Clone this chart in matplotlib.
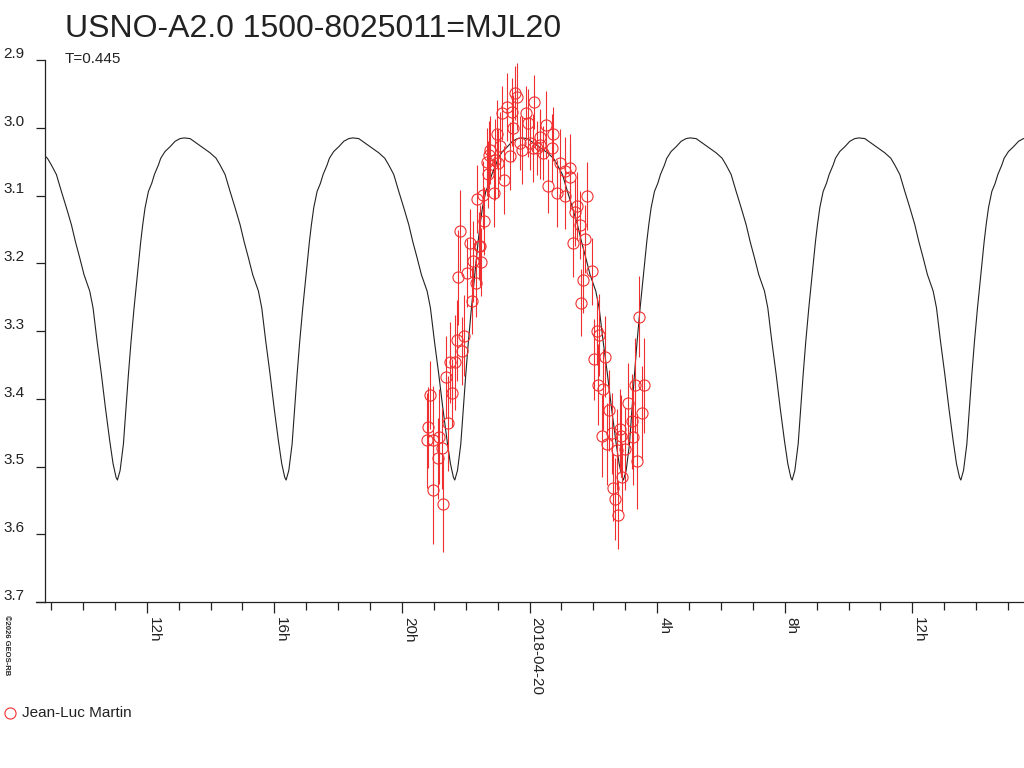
import numpy as np
import matplotlib
matplotlib.use('Agg')
import matplotlib.pyplot as plt
from matplotlib.lines import Line2D
from matplotlib.transforms import blended_transform_factory

plt.rcParams['font.family'] = ['Liberation Sans', 'DejaVu Sans']

# time axis in hours since 2018-04-19 00:00
x_min, x_max = 8.81, 39.5
major_hours = [12, 16, 20, 24, 28, 32, 36]
major_labels = ['12h', '16h', '20h', '2018-04-20', '4h', '8h', '12h']
y_ticks = [2.9, 3.0, 3.1, 3.2, 3.3, 3.4, 3.5, 3.6, 3.7]

# model light curve: one cycle (hours after minimum, mag)
epoch_min = 11.08
period = 5.288
cycle_dt = [0.0, 0.084, 0.188, 0.272, 0.345, 0.428, 0.522, 0.627, 0.731, 0.794,
            0.867, 0.972, 1.076, 1.160, 1.285, 1.358, 1.494, 1.651, 1.808, 1.964,
            2.090, 2.278, 2.487, 2.696, 2.905, 3.093, 3.218, 3.375, 3.532, 3.689,
            3.845, 3.971, 4.107, 4.242, 4.420, 4.525, 4.650, 4.786, 4.911, 5.047,
            5.152, 5.246, 5.288]
cycle_mag = [3.520, 3.506, 3.467, 3.413, 3.364, 3.315, 3.266, 3.217, 3.168, 3.143,
             3.118, 3.094, 3.082, 3.069, 3.055, 3.045, 3.035, 3.028, 3.020, 3.016,
             3.015, 3.016, 3.023, 3.030, 3.037, 3.045, 3.055, 3.069, 3.094, 3.118,
             3.143, 3.168, 3.192, 3.217, 3.241, 3.266, 3.315, 3.364, 3.413, 3.462,
             3.496, 3.516, 3.520]

# observations (Jean-Luc Martin)
obs_t = [20.78, 20.83, 20.88, 20.98, 20.98, 21.12, 21.17, 21.25, 21.30, 21.37,
         21.44, 21.51, 21.56, 21.66, 21.72, 21.77, 21.83, 21.89, 21.96, 22.03,
         22.13, 22.19, 22.24, 22.31, 22.35, 22.42, 22.45, 22.48, 22.57, 22.71,
         22.74, 22.87, 22.92, 22.97, 23.08, 23.13, 23.20, 23.30, 23.39, 23.49,
         23.55, 23.60, 23.70, 23.76, 23.89, 23.96, 24.02, 24.12, 24.14, 24.23,
         24.33, 24.43, 24.52, 24.59, 24.70, 24.75, 24.85, 25.11, 25.11, 25.27,
         25.27, 25.37, 25.43, 25.58, 25.61, 25.69, 25.74, 25.79, 25.95, 26.02,
         26.11, 26.16, 26.19, 26.26, 26.31, 26.37, 26.42, 26.50, 26.58, 26.63,
         26.68, 26.73, 26.78, 26.84, 26.87, 26.91, 26.99, 27.10, 27.20, 27.24,
         27.31, 27.38, 27.44, 27.52, 27.59,
         23.44, 22.76, 22.66, 23.02, 24.96, 22.55, 25.48, 24.33]
obs_mag = [3.461, 3.442, 3.395, 3.461, 3.534, 3.488, 3.456, 3.473, 3.556, 3.368,
           3.436, 3.346, 3.392, 3.346, 3.314, 3.221, 3.152, 3.330, 3.307, 3.214,
           3.170, 3.255, 3.197, 3.229, 3.105, 3.174, 3.174, 3.198, 3.138, 3.069,
           3.040, 3.096, 3.047, 3.009, 3.027, 2.978, 3.077, 2.969, 3.042, 3.001,
           2.949, 2.954, 3.023, 3.033, 2.978, 2.993, 3.023, 3.030, 2.962, 3.030,
           3.013, 3.037, 2.996, 3.086, 3.030, 3.009, 3.097, 3.064, 3.100, 3.059,
           3.073, 3.170, 3.125, 3.144, 3.258, 3.224, 3.164, 3.101, 3.212, 3.342,
           3.300, 3.379, 3.306, 3.455, 3.386, 3.338, 3.467, 3.417, 3.451, 3.531,
           3.548, 3.475, 3.572, 3.445, 3.455, 3.515, 3.474, 3.407, 3.433, 3.457,
           3.380, 3.492, 3.279, 3.421, 3.380,
           2.977, 3.033, 3.050, 3.052, 3.052, 3.099, 3.116, 3.025]
obs_err = [0.07, 0.06, 0.05, 0.08, 0.08, 0.06, 0.07, 0.06, 0.07, 0.06,
           0.07, 0.06, 0.05, 0.07, 0.06, 0.07, 0.06, 0.05, 0.06, 0.05,
           0.05, 0.05, 0.06, 0.05, 0.05, 0.05, 0.06, 0.05, 0.05, 0.05,
           0.05, 0.05, 0.06, 0.05, 0.05, 0.04, 0.05, 0.05, 0.05, 0.05,
           0.04, 0.05, 0.04, 0.05, 0.04, 0.05, 0.04, 0.05, 0.04, 0.04,
           0.04, 0.04, 0.05, 0.04, 0.05, 0.04, 0.05, 0.05, 0.05, 0.05,
           0.05, 0.05, 0.05, 0.05, 0.05, 0.05, 0.05, 0.05, 0.05, 0.06,
           0.05, 0.06, 0.06, 0.06, 0.06, 0.06, 0.06, 0.06, 0.06, 0.05,
           0.06, 0.06, 0.05, 0.06, 0.06, 0.05, 0.06, 0.06, 0.07, 0.07,
           0.07, 0.07, 0.06, 0.07, 0.07,
           0.05, 0.05, 0.05, 0.05, 0.05, 0.05, 0.05, 0.05]

red = '#f03030'
ink = '#222222'

fig = plt.figure(figsize=(10.24, 7.68), dpi=100)
ax = fig.add_axes([45 / 1024, 1 - 602 / 768, 1 - 45 / 1024, (602 - 60) / 768])

# tile the model cycle across the plotted range
curve_t, curve_m = [], []
for k in range(-1, 6):
    start = epoch_min + k * period
    curve_t += [start + d for d in cycle_dt[:-1]]
    curve_m += cycle_mag[:-1]
ax.plot(curve_t, curve_m, color=ink, lw=0.8)

ax.errorbar(obs_t, obs_mag, yerr=obs_err, fmt='o', mfc='none', mec=red,
            ecolor=red, elinewidth=0.8, ms=8, mew=0.8, capsize=0)

ax.set_xlim(x_min, x_max)
ax.set_ylim(3.7, 2.9)

ax.set_xticks(major_hours)
ax.set_xticklabels(major_labels, rotation=-90, ha='left', va='top', fontsize=11,
                   color=ink)
ax.set_xticks(np.arange(9, 40, 1), minor=True)
ax.tick_params(axis='x', which='major', length=8, width=0.9, pad=3, color=ink)
ax.tick_params(axis='x', which='minor', length=6, width=0.9, color=ink)

ax.set_yticks(y_ticks)
ax.set_yticklabels([])
ax.tick_params(axis='y', length=6.5, width=0.9, color=ink)
tr = blended_transform_factory(fig.transFigure, ax.transData)
for v in y_ticks:
    ax.text(3 / 1024, v - 0.003, f'{v:.1f}', transform=tr, ha='left',
            va='baseline', fontsize=11, color=ink)

for s in ['top', 'right']:
    ax.spines[s].set_visible(False)
for s in ['left', 'bottom']:
    ax.spines[s].set_linewidth(0.9)
    ax.spines[s].set_color(ink)
ax.spines['bottom'].set_bounds(x_min - 9 / 31.9, x_max)

fig.text(65 / 1024, 1 - 37 / 768, 'USNO-A2.0 1500-8025011=MJL20', fontsize=23,
         va='baseline', color=ink)
fig.text(65 / 1024, 1 - 63 / 768, 'T=0.445', fontsize=11, va='baseline',
         color=ink)
fig.text(3 / 1024, 1 - 615 / 768, '©2026 GEOS-RB', fontsize=5.5, rotation=-90,
         ha='left', va='top', color=ink, fontweight='bold')

fig.add_artist(Line2D([10 / 1024], [1 - 713 / 768], marker='o', ms=8, mfc='none',
                      mec=red, mew=0.8, transform=fig.transFigure))
fig.text(22 / 1024, 1 - 713 / 768, 'Jean-Luc Martin', fontsize=11, va='center',
         color=ink)

fig.savefig('out.png', dpi=100)
